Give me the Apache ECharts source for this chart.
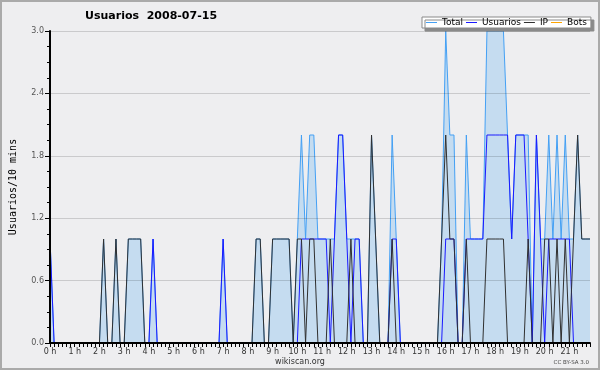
<!DOCTYPE html>
<html>
<head>
<meta charset="utf-8">
<script src="https://cdn.jsdelivr.net/npm/echarts@6/dist/echarts.min.js"></script>
<style>
  html, body { margin: 0; padding: 0; background: #eeeef0; }
  #chart { width: 600px; height: 370px; }
</style>
</head>
<body>
<div id="chart"></div>
<script>
// Hour tick labels (one every 6 slots of 10 minutes)
const hourLabels = ['0 h','1 h','2 h','3 h','4 h','5 h','6 h','7 h','8 h','9 h','10 h',
  '11 h','12 h','13 h','14 h','15 h','16 h','17 h','18 h','19 h','20 h','21 h'];
const minuteSlots = ['00','10','20','30','40','50'];

const seriesNames = ['Total', 'Usuarios', 'IP', 'Bots'];

// values per 10-minute slot, 00:00 .. 21:50
const total = [
  1,0,0,0,0,0,0,0,0,0, 0,0,0,1,0,0,1,0,0,1,
  1,1,1,0,0,1,0,0,0,0, 0,0,0,0,0,0,0,0,0,0,
  0,0,1,0,0,0,0,0,0,0, 1,1,0,0,1,1,1,1,1,0,
  1,2,1,2,2,1,1,1,1,1, 2,2,1,1,1,1,0,0,2,1,
  0,0,0,2,1,0,0,0,0,0, 0,0,0,0,0,1,3,2,2,0,
  0,2,1,1,1,1,3,3,3,3, 3,2,1,2,2,2,2,0,2,1,
  1,2,1,2,1,2,1,1,2,1, 1,1
];
const usuarios = [
  1,0,0,0,0,0,0,0,0,0, 0,0,0,0,0,0,0,0,0,0,
  0,0,0,0,0,1,0,0,0,0, 0,0,0,0,0,0,0,0,0,0,
  0,0,1,0,0,0,0,0,0,0, 0,0,0,0,0,0,0,0,0,0,
  0,1,1,1,1,1,1,1,0,1, 2,2,1,0,1,1,0,0,0,0,
  0,0,0,1,1,0,0,0,0,0, 0,0,0,0,0,0,1,1,1,0,
  0,1,1,1,1,1,2,2,2,2, 2,2,1,2,2,2,1,0,2,1,
  0,1,1,1,1,1,1,0,0,0, 0,0
];
const ip = [
  0,0,0,0,0,0,0,0,0,0, 0,0,0,1,0,0,1,0,0,1,
  1,1,1,0,0,0,0,0,0,0, 0,0,0,0,0,0,0,0,0,0,
  0,0,0,0,0,0,0,0,0,0, 1,1,0,0,1,1,1,1,1,0,
  1,1,0,1,1,0,0,0,1,0, 0,0,0,1,0,0,0,0,2,1,
  0,0,0,1,0,0,0,0,0,0, 0,0,0,0,0,1,2,1,1,0,
  0,1,0,0,0,0,1,1,1,1, 1,0,0,0,0,0,1,0,0,0,
  1,1,0,1,0,1,0,1,2,1, 1,1
];
const bots = [
  0,0,0,0,0,0,0,0,0,0, 0,0,0,0,0,0,0,0,0,0,
  0,0,0,0,0,0,0,0,0,0, 0,0,0,0,0,0,0,0,0,0,
  0,0,0,0,0,0,0,0,0,0, 0,0,0,0,0,0,0,0,0,0,
  0,0,0,0,0,0,0,0,0,0, 0,0,0,0,0,0,0,0,0,0,
  0,0,0,0,0,0,0,0,0,0, 0,0,0,0,0,0,0,0,0,0,
  0,0,0,0,0,0,0,0,0,0, 0,0,0,0,0,0,0,0,0,0,
  0,0,0,0,0,0,0,0,0,0, 0,0
];

// category slots "H:MM"
const slots = [];
hourLabels.forEach((h, hi) => minuteSlots.forEach(m => slots.push(hi + ':' + m)));

const colors = { Total: '#44a0f4', Usuarios: '#1a1aff', IP: '#303030', Bots: '#ffa500' };
const FONT = 'DejaVu Sans';

const chart = echarts.init(document.getElementById('chart'), null, { renderer: 'canvas' });
chart.setOption({
  animation: false,
  backgroundColor: '#eeeef0',
  title: {
    text: 'Usuarios  2008-07-15',
    left: 85, top: 11, padding: 0,
    textStyle: { fontFamily: FONT, fontWeight: 'bold', fontSize: 11, color: '#000' }
  },
  legend: {
    data: seriesNames,
    left: 422, top: 17,
    icon: 'rect', itemWidth: 11, itemHeight: 1, itemGap: 3,
    padding: [1, 4, 1, 4],
    backgroundColor: '#ffffff', borderColor: '#8a8a8a', borderWidth: 1,
    shadowColor: '#8a8a8a', shadowOffsetX: 3, shadowOffsetY: 3, shadowBlur: 0,
    textStyle: { fontFamily: FONT, fontSize: 9, color: '#000' },
    selectedMode: false
  },
  grid: { left: 46, top: 31, right: 10, bottom: 27, containLabel: false },
  xAxis: {
    type: 'category', data: slots, boundaryGap: false, z: 5,
    axisLine: { lineStyle: { color: '#000', width: 2 } },
    axisTick: { interval: 0, length: 4, lineStyle: { color: '#000' } },
    axisLabel: {
      interval: (i) => i % 6 === 0,
      formatter: (v, i) => hourLabels[Math.floor(i / 6)],
      fontFamily: FONT, fontSize: 8, color: '#333', margin: 5
    },
    splitLine: { show: false }
  },
  yAxis: {
    type: 'value', min: 0, max: 3, interval: 0.6, z: 5,
    name: 'Usuarios/10 mins', nameLocation: 'middle', nameGap: 32, nameRotate: 90,
    nameTextStyle: { fontFamily: 'DejaVu Sans Mono', fontSize: 10, color: '#000' },
    axisLine: { show: true, lineStyle: { color: '#000', width: 2 } },
    axisTick: { show: true, length: 5, lineStyle: { color: '#000' } },
    minorTick: { show: true, splitNumber: 4, length: 3, lineStyle: { color: '#000' } },
    axisLabel: { formatter: (v) => v.toFixed(1), fontFamily: FONT, fontSize: 8, color: '#555', margin: 6 },
    splitLine: { show: true, lineStyle: { color: 'rgba(0,0,0,0.15)', width: 1 } }
  },
  series: [
    { name: 'Total', type: 'line', data: total, symbol: 'none', color: colors.Total,
      lineStyle: { width: 1, color: colors.Total }, areaStyle: { color: '#c5dcf0', opacity: 1 } },
    { name: 'Usuarios', type: 'line', data: usuarios, symbol: 'none', color: colors.Usuarios,
      lineStyle: { width: 1, color: colors.Usuarios } },
    { name: 'IP', type: 'line', data: ip, symbol: 'none', color: colors.IP,
      lineStyle: { width: 1, color: colors.IP } },
    { name: 'Bots', type: 'line', data: bots, symbol: 'none', color: colors.Bots, z: 1,
      lineStyle: { width: 1, color: colors.Bots } }
  ],
  graphic: [
    { type: 'rect', shape: { x: 1, y: 1, width: 598, height: 368 },
      style: { fill: 'none', stroke: '#aaaaaa', lineWidth: 2 }, silent: true, z: 100 },
    { type: 'text', x: 300, y: 362,
      style: { text: 'wikiscan.org', font: '8px "DejaVu Sans"', fill: '#333', textAlign: 'center', textVerticalAlign: 'middle' } },
    { type: 'text', x: 589, y: 363,
      style: { text: 'CC BY-SA 3.0', font: '5.5px "DejaVu Sans"', fill: '#444', textAlign: 'right', textVerticalAlign: 'middle' } }
  ]
});
</script>
</body>
</html>
